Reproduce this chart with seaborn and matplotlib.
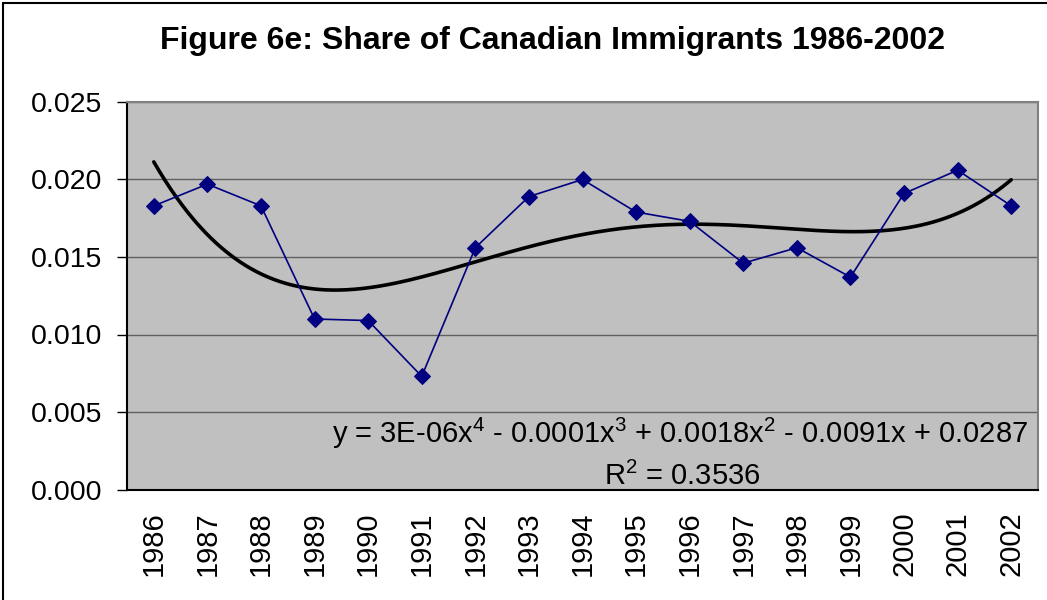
import numpy as np
import pandas as pd
import matplotlib
matplotlib.use("Agg")
import matplotlib.pyplot as plt
from matplotlib.ticker import FixedLocator, FormatStrFormatter
from matplotlib.patches import Rectangle
import seaborn as sns

years = ["1986", "1987", "1988", "1989", "1990", "1991", "1992", "1993", "1994",
         "1995", "1996", "1997", "1998", "1999", "2000", "2001", "2002"]
share = [0.0183, 0.0197, 0.0183, 0.0110, 0.0109, 0.0073, 0.0156, 0.0189, 0.0200,
         0.0179, 0.0173, 0.0146, 0.0156, 0.0137, 0.0191, 0.0206, 0.0183]
title = "Figure 6e: Share of Canadian Immigrants 1986-2002"
eq_line1 = "y = 3E-06x$^{4}$ - 0.0001x$^{3}$ + 0.0018x$^{2}$ - 0.0091x + 0.0287"
eq_line2 = "R$^{2}$ = 0.3536"

sns.set_style("white")
plt.rcParams["font.family"] = ["Liberation Sans", "DejaVu Sans"]
plt.rcParams["mathtext.fontset"] = "custom"
plt.rcParams["mathtext.rm"] = "Liberation Sans"
plt.rcParams["mathtext.it"] = "Liberation Sans"
plt.rcParams["mathtext.default"] = "regular"
plt.rcParams["text.color"] = "black"
plt.rcParams["xtick.color"] = "black"
plt.rcParams["ytick.color"] = "black"

fig = plt.figure(figsize=(10.47, 6.0), dpi=100)
ax = fig.add_axes([127 / 1047, 1 - 489.5 / 600, (1038 - 127) / 1047, (489.5 - 102) / 600])
ax.set_facecolor("#C0C0C0")

idx = np.arange(len(years))
df = pd.DataFrame({"x": idx, "share": share})

# polynomial trendline (order 4) as Excel: x = 1..n
coef = np.polyfit(idx + 1, np.array(share), 4)
xf = np.linspace(1, len(years), 300)
tdf = pd.DataFrame({"x": xf - 1, "trend": np.polyval(coef, xf)})

sns.lineplot(data=tdf, x="x", y="trend", ax=ax, color="black", lw=2.6, zorder=3)
sns.lineplot(data=df, x="x", y="share", ax=ax, color="#000080", lw=1.2,
             marker="D", markersize=8.5, markeredgecolor="#000080", zorder=4)

ax.set_xlim(-0.5, len(years) - 0.5)
ax.set_ylim(0, 0.025)
ax.set_yticks(np.arange(0, 0.0251, 0.005))
ax.yaxis.set_major_formatter(FormatStrFormatter("%.3f"))
ax.set_xticks(idx)
ax.set_xticklabels(years, rotation=90)
ax.xaxis.set_minor_locator(FixedLocator(np.arange(-0.5, len(years), 1.0)))
ax.tick_params(axis="x", which="major", length=0, pad=16, labelsize=21)
ax.tick_params(axis="x", which="minor", length=7, width=1, color="black", direction="out")
ax.tick_params(axis="y", which="major", length=7, width=1, color="black",
               direction="out", left=True, pad=11, labelsize=20.5)
ax.set_xlabel("")
ax.set_ylabel("")
ax.grid(axis="y", color="#606060", lw=1)
ax.set_axisbelow(True)
for s in ["top", "right"]:
    ax.spines[s].set_color("#808080")
    ax.spines[s].set_linewidth(1.5)
for s in ["left", "bottom"]:
    ax.spines[s].set_color("black")
    ax.spines[s].set_linewidth(1.5)

ax.text(0.607, 0.0030, eq_line1, transform=ax.get_yaxis_transform(),
        ha="center", va="baseline", fontsize=21, zorder=5)
ax.text(0.609, 0.0003, eq_line2, transform=ax.get_yaxis_transform(),
        ha="center", va="baseline", fontsize=21, zorder=5)

fig.text(0.528, 1 - 49 / 600, title, ha="center", va="baseline",
         fontsize=23, fontweight="bold")

fig.patches.append(Rectangle((3 / 1047, -0.05), 1.1, 1 - 3 / 600 + 0.05,
                             transform=fig.transFigure, fill=False,
                             edgecolor="black", lw=1.5))

fig.savefig("out.png", dpi=100)
